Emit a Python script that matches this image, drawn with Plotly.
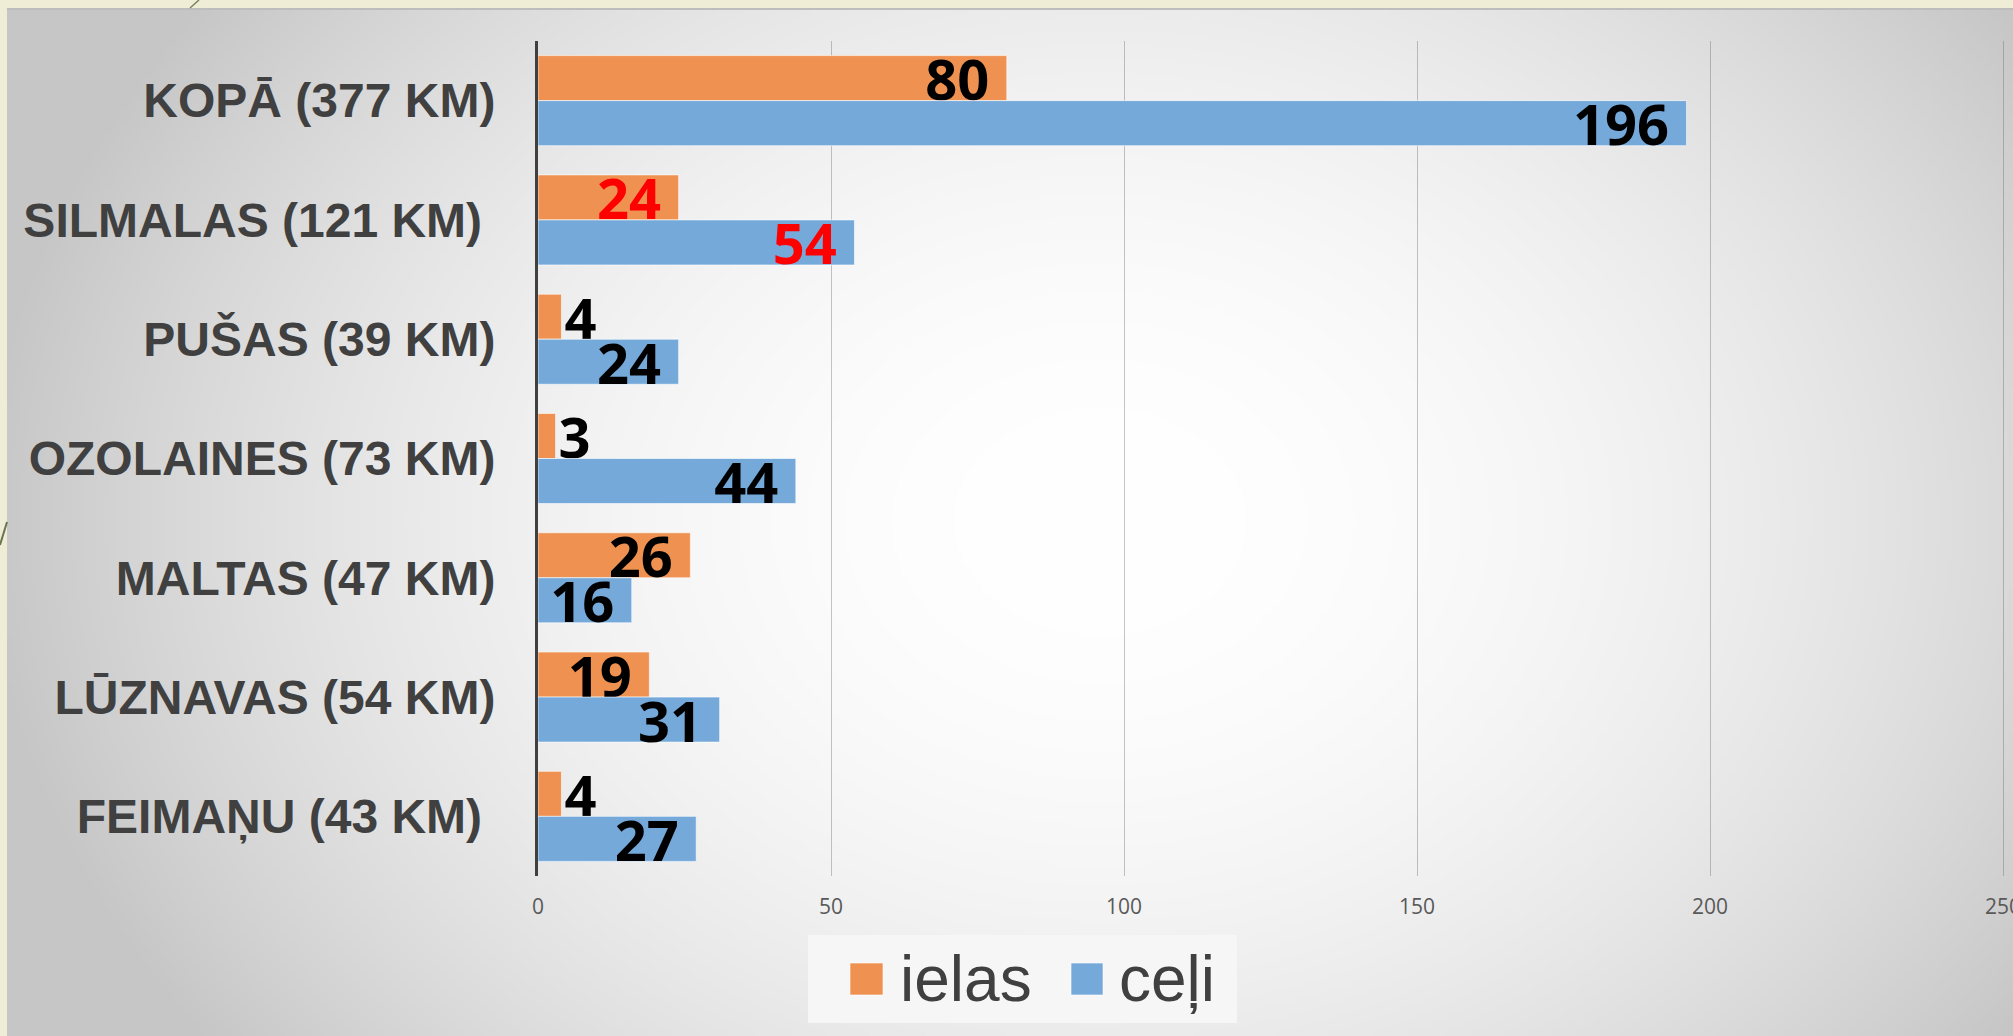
"""
Ceļu un ielu garums pa pagastiem — horizontālās joslas
"""
import base64
import struct
import zlib

import plotly.graph_objects as go

W, H = 2013, 1036

categorias = [
    "KOPĀ (377 KM)",
    "SILMALAS (121 KM)\u00a0",
    "PUŠAS (39 KM)",
    "OZOLAINES (73 KM)",
    "MALTAS (47 KM)",
    "LŪZNAVAS (54 KM)",
    "FEIMAŅU (43 KM)\u00a0",
]
ielas = [80, 24, 4, 3, 26, 19, 4]
celi = [196, 54, 24, 44, 16, 31, 27]
x_ticks = [0, 50, 100, 150, 200, 250]
izceltie = ["SILMALAS (121 KM)\u00a0"]

_ORANZA = "#EF9150"
_ZILA = "#74A9DA"
_TEKSTS = "#404040"

# x ass: 0 pie 538 px, 250 pie 2003 px
_X_MAX = 250.6
_X0, _X250 = 538, 2003


def _px(x):
    return x / W


def _py(y):
    return 1 - y / H


def _fondo_png(w=503, h=257):
    """Radiāls pelēks gradients kā slaida fonā (PNG, pelēktoņu)."""
    cx, cy, rx, ry = 1100, 520, 1150, 900
    filas = []
    for j in range(h):
        y = 9 + (j + 0.5) * (H - 9) / h
        fila = bytearray([0])
        for i in range(w):
            x = 7 + (i + 0.5) * (W - 7) / w
            d2 = ((x - cx) / rx) ** 2 + ((y - cy) / ry) ** 2
            fila.append(int(max(198, 255 - 60 * d2)))
        filas.append(bytes(fila))

    def chunk(tag, data):
        return (struct.pack(">I", len(data)) + tag + data
                + struct.pack(">I", zlib.crc32(tag + data) & 0xFFFFFFFF))

    png = (b"\x89PNG\r\n\x1a\n"
           + chunk(b"IHDR", struct.pack(">IIBBBBB", w, h, 8, 0, 0, 0, 0))
           + chunk(b"IDAT", zlib.compress(b"".join(filas), 9))
           + chunk(b"IEND", b""))
    return "data:image/png;base64," + base64.b64encode(png).decode()


def _josla(nosaukums, vertibas, krasa):
    return go.Bar(
        name=nosaukums,
        y=categorias,
        x=vertibas,
        orientation="h",
        marker=dict(color=krasa, line=dict(color="rgba(255,255,255,0.6)", width=1)),
        texttemplate="%{x}\u00a0",
        textposition=["inside" if v >= 10 else "outside" for v in vertibas],
        insidetextanchor="end",
        constraintext="none",
        cliponaxis=False,
        textfont=dict(
            family="Open Sans", size=56, weight="bold",
            color=["#FF0000" if c in izceltie else "#000000" for c in categorias],
        ),
        showlegend=False,
    )


fig = go.Figure([_josla("ielas", ielas, _ORANZA), _josla("ceļi", celi, _ZILA)])

shapes = [
    # slaida paneļa augšmala un dekoratīvās līnijas
    dict(type="line", x0=_px(7), x1=1, y0=_py(9), y1=_py(9),
         line=dict(color="#BDBDBD", width=2)),
    dict(type="line", x0=_px(190), x1=_px(199), y0=_py(8), y1=_py(0),
         line=dict(color="#7A8560", width=1.5)),
    dict(type="line", x0=_px(0), x1=_px(7), y0=_py(545), y1=_py(522),
         line=dict(color="#6B7550", width=2)),
    # leģenda
    dict(type="rect", x0=_px(808), x1=_px(1237), y0=_py(1023), y1=_py(935),
         fillcolor="#F6F6F6", line=dict(width=0)),
    dict(type="rect", x0=_px(850), x1=_px(883), y0=_py(995), y1=_py(963),
         fillcolor=_ORANZA, line=dict(color="rgba(255,255,255,0.6)", width=1)),
    dict(type="rect", x0=_px(1071), x1=_px(1103), y0=_py(995), y1=_py(963),
         fillcolor=_ZILA, line=dict(color="rgba(255,255,255,0.6)", width=1)),
]
for s in shapes:
    s.update(xref="paper", yref="paper", layer="above")

annotations = [
    dict(text="ielas", x=_px(898), y=_py(979)),
    dict(text="ceļi", x=_px(1117), y=_py(979)),
]
for a in annotations:
    a.update(xref="paper", yref="paper", xanchor="left", yanchor="middle",
             showarrow=False, font=dict(family="Liberation Sans", size=64, color=_TEKSTS))

fig.update_layout(
    width=W,
    height=H,
    margin=dict(l=0, r=0, t=0, b=0),
    paper_bgcolor="#EFEDD6",
    plot_bgcolor="rgba(0,0,0,0)",
    barmode="group",
    bargap=0.245,
    bargroupgap=0,
    shapes=shapes,
    annotations=annotations,
    images=[dict(
        source=_fondo_png(), xref="paper", yref="paper",
        x=_px(7), y=_py(9), sizex=1 - _px(7), sizey=_py(9),
        xanchor="left", yanchor="top", sizing="stretch", layer="below",
    )],
    xaxis=dict(
        domain=[_px(_X0), _px(_X0 + (_X250 - _X0) * _X_MAX / 250)],
        range=[0, _X_MAX],
        tickvals=x_ticks,
        showgrid=True,
        gridcolor="rgba(110,110,110,0.4)",
        gridwidth=1,
        zeroline=False,
        showline=False,
        ticks="",
        ticklabelstandoff=16,
        ticklabeloverflow="allow",
        tickfont=dict(family="Open Sans", size=21, color="#595959"),
        automargin=False,
        fixedrange=True,
    ),
    yaxis=dict(
        domain=[_py(876), _py(41)],
        type="category",
        autorange="reversed",
        showgrid=False,
        zeroline=False,
        showline=True,
        linecolor=_TEKSTS,
        linewidth=3,
        ticks="",
        ticklabelstandoff=30,
        tickfont=dict(family="Liberation Sans", size=48, weight="bold", color=_TEKSTS),
        automargin=False,
        fixedrange=True,
    ),
)

fig.write_html(
    "out.html",
    config={"displayModeBar": False},
    post_script="document.body.style.margin='0';",
)
